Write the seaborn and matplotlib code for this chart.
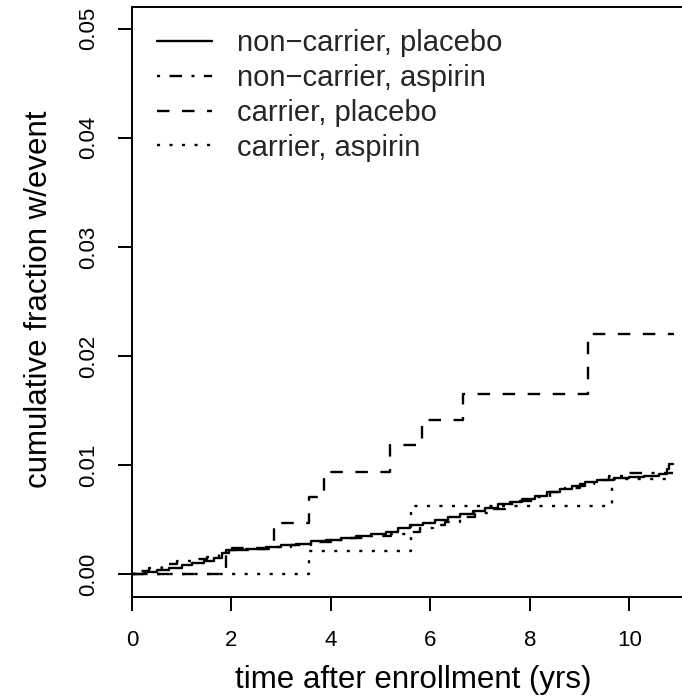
import matplotlib
matplotlib.use("Agg")
import matplotlib.pyplot as plt
import seaborn as sns
import pandas as pd

# Cumulative incidence step curves (time in years, cumulative fraction with event)
nc_placebo_t = [0.0, 0.25, 0.5, 0.75, 1.0, 1.2, 1.45, 1.65, 1.8, 1.9, 2.3, 2.7, 3.0,
                3.3, 3.6, 3.9, 4.2, 4.5, 4.8, 5.1, 5.35, 5.6, 5.85, 6.1, 6.35, 6.6,
                6.85, 7.1, 7.35, 7.6, 7.85, 8.1, 8.35, 8.6, 8.85, 9.1, 9.35, 9.7,
                10.0, 10.3, 10.6, 10.75, 10.8, 10.88]
nc_placebo_v = [0.0, 0.0002, 0.0004, 0.0006, 0.0008, 0.0010, 0.0012, 0.0015, 0.0019,
                0.0022, 0.0023, 0.0025, 0.0027, 0.0028, 0.0030, 0.0031, 0.0033,
                0.0035, 0.0037, 0.0039, 0.0042, 0.0045, 0.0047, 0.0050, 0.0052,
                0.0055, 0.0058, 0.0061, 0.0064, 0.0066, 0.0069, 0.0072, 0.0075,
                0.0078, 0.0081, 0.0084, 0.0086, 0.0088, 0.0089, 0.0090, 0.0092,
                0.0096, 0.0101, 0.0101]

nc_aspirin_t = [0.0, 0.1, 0.35, 0.6, 0.9, 1.2, 1.5, 1.75, 1.95, 2.4, 2.8, 3.2, 3.6,
                4.0, 4.4, 4.8, 5.2, 5.5, 5.8, 6.05, 6.3, 6.6, 6.9, 7.2, 7.5, 7.8,
                8.1, 8.4, 8.7, 9.0, 9.3, 9.6, 9.9, 10.88]
nc_aspirin_v = [0.0, 0.0003, 0.0006, 0.0009, 0.0012, 0.0014, 0.0016, 0.0019, 0.0022,
                0.0023, 0.0025, 0.0027, 0.0029, 0.0031, 0.0033, 0.0035, 0.0037,
                0.0039, 0.0042, 0.0045, 0.0048, 0.0052, 0.0056, 0.0060, 0.0064,
                0.0067, 0.0071, 0.0075, 0.0079, 0.0083, 0.0086, 0.0090, 0.0093,
                0.0093]

c_placebo_t = [0.0, 1.90, 2.85, 3.56, 3.86, 5.19, 5.84, 6.66, 9.16, 10.9]
c_placebo_v = [0.0, 0.0024, 0.0047, 0.0071, 0.0094, 0.0118, 0.0141, 0.0165, 0.0220, 0.0220]

c_aspirin_t = [0.0, 3.56, 5.62, 9.65, 10.9]
c_aspirin_v = [0.0, 0.0021, 0.0062, 0.0087, 0.0087]

group_labels = ["non\u2212carrier, placebo", "non\u2212carrier, aspirin",
                "carrier, placebo", "carrier, aspirin"]

x_ticks = [0, 2, 4, 6, 8, 10]
y_ticks = [0.00, 0.01, 0.02, 0.03, 0.04, 0.05]
y_tick_labels = ["0.00", "0.01", "0.02", "0.03", "0.04", "0.05"]

frames = []
for lab, t, v in zip(group_labels,
                     [nc_placebo_t, nc_aspirin_t, c_placebo_t, c_aspirin_t],
                     [nc_placebo_v, nc_aspirin_v, c_placebo_v, c_aspirin_v]):
    frames.append(pd.DataFrame({"time": t, "frac": v, "group": lab}))
df = pd.concat(frames, ignore_index=True)

sns.set_theme(style="white")
plt.rcParams["font.family"] = ["Liberation Sans", "DejaVu Sans"]

fig = plt.figure(figsize=(6.82, 6.99), dpi=100)
ax = fig.add_axes([132 / 682, 102 / 699, 552 / 682, 590 / 699])

lw = 1.7
dash_map = {
    group_labels[0]: "",
    group_labels[1]: (1.3, 4.0, 5.3, 4.0),
    group_labels[2]: (5.3, 5.3),
    group_labels[3]: (1.3, 4.0),
}

sns.lineplot(data=df, x="time", y="frac", style="group", style_order=group_labels,
             dashes=dash_map, color="black", linewidth=lw, estimator=None,
             sort=False, drawstyle="steps-post", ax=ax, legend=True)

handles, labels = ax.get_legend_handles_labels()
pairs = [(h, l) for h, l in zip(handles, labels) if l in group_labels]
ax.legend([p[0] for p in pairs], [p[1] for p in pairs], loc="upper left",
          bbox_to_anchor=(0.045, 0.962), frameon=False, fontsize=21,
          handlelength=1.9, handletextpad=0.85, labelspacing=0.23,
          borderpad=0, borderaxespad=0)

ax.set_xlim(0, 11.1)
ax.set_ylim(-0.0021, 0.052)
ax.set_xticks(x_ticks)
ax.set_xticklabels([str(x) for x in x_ticks])
ax.set_yticks(y_ticks)
ax.set_yticklabels(y_tick_labels)

for side in ["top", "left", "bottom", "right"]:
    ax.spines[side].set_color("black")
    ax.spines[side].set_linewidth(1.4)

ax.tick_params(axis="both", which="major", direction="out", length=10, width=1.4,
               color="black", labelsize=16, labelcolor="black",
               bottom=True, left=True)
ax.tick_params(axis="x", pad=14)
ax.tick_params(axis="y", pad=14, labelrotation=90)
for lbl in ax.get_yticklabels():
    lbl.set_va("center")

ax.set_xlabel("time after enrollment (yrs)", fontsize=22.5, color="black")
ax.set_ylabel("cumulative fraction w/event", fontsize=22.5, color="black")
ax.xaxis.set_label_coords(0.51, -0.116)
ax.yaxis.set_label_coords(-0.142, 0.505)

fig.savefig("out.png", dpi=100)
